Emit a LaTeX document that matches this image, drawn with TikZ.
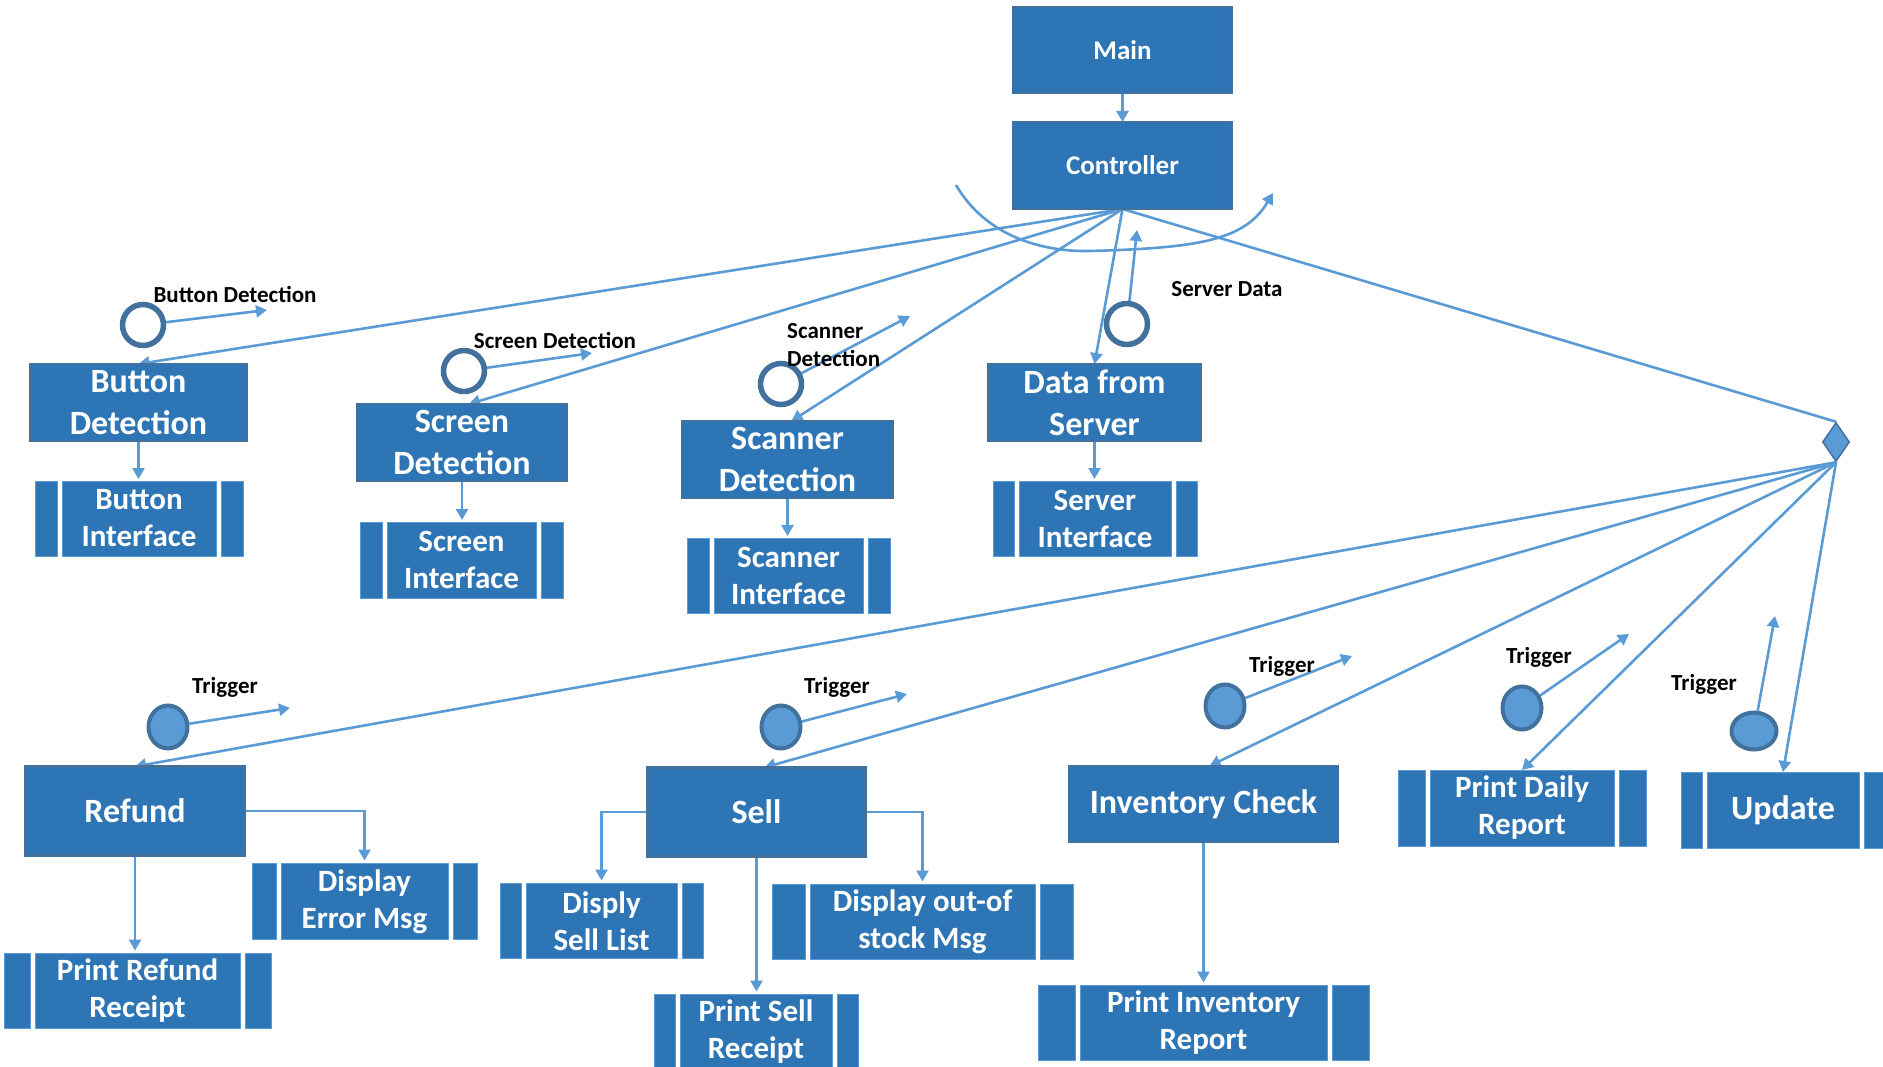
\documentclass[tikz,border=0pt]{standalone}
\usepackage{fontspec}
\setmainfont{Carlito}
\usetikzlibrary{arrows.meta,shapes.geometric,calc}
\definecolor{boxfill}{HTML}{2E75B6}
\definecolor{boxline}{HTML}{41719C}
\definecolor{conline}{HTML}{5B9BD5}
\pgfdeclarelayer{bg}
\pgfsetlayers{bg,main}
\newcommand\fBig{\fontsize{34}{42}\selectfont\bfseries}
\newcommand\fMid{\fontsize{31}{37}\selectfont\bfseries}
\newcommand\fTop{\fontsize{27}{32}\selectfont\bfseries}
\newcommand\fLab{\fontsize{23}{28}\selectfont\bfseries}
% #1 name, #2 centre, #3 total width, #4 height, #5 bar width, #6 font, #7 text
\newcommand\pbox[7]{%
  \node[ibox, font=#6, minimum width={#3-2*#5-10}, minimum height=#4] (#1) at (#2) {#7};
  \draw[barst] ([xshift=-5]#1.north west) rectangle ([xshift={-5-#5}]#1.south west);
  \draw[barst] ([xshift=5]#1.north east) rectangle ([xshift={5+#5}]#1.south east);
}
\begin{document}
\begin{tikzpicture}[x=1pt,y=-1pt,
  proc/.style={draw=boxline, line width=2.5, fill=boxfill, text=white, align=center, inner sep=0pt, outer sep=0pt},
  ibox/.style={draw=conline, line width=1, fill=boxfill, text=white, align=center, inner sep=0pt, outer sep=0pt},
  barst/.style={draw=conline, line width=1, fill=boxfill},
  conn/.style={draw=conline, line width=2.6},
  arr/.style={conn, -{Triangle[length=11pt,width=12pt]}},
  hollow/.style={circle, draw=boxline, line width=5.5, fill=white, minimum size=41, inner sep=0pt},
  trig/.style={ellipse, draw=boxline, line width=4, fill=conline, inner sep=0pt},
  lab/.style={font=\fLab, text=black, inner sep=0pt},
]
\useasboundingbox (0,0) rectangle (1883,1067);

% top boxes
\node[proc, font=\fTop, minimum width=219, minimum height=86] (main) at (1122.5,50) {Main};
\node[proc, font=\fTop, minimum width=219, minimum height=87] (ctrl) at (1122.5,165.5) {Controller};
\node[proc, font=\fBig, minimum width=217, minimum height=77] (bd) at (138.5,402.5) {Button\\Detection};
\node[proc, font=\fBig, minimum width=210, minimum height=77] (sd) at (462,442.5) {Screen\\Detection};
\node[proc, font=\fBig, minimum width=211, minimum height=77] (scd) at (787.5,459.5) {Scanner\\Detection};
\node[proc, font=\fBig, minimum width=213, minimum height=77] (dfs) at (1094.5,402.5) {Data from\\Server};
\pbox{bi}{139,518.5}{208}{75}{22}{\fMid}{Button\\Interface}
\pbox{si}{461.5,560}{203}{76}{22}{\fMid}{Screen\\Interface}
\pbox{sci}{788.5,575.5}{203}{75}{22}{\fMid}{Scanner\\Interface}
\pbox{svi}{1095,518.5}{204}{75}{21}{\fMid}{Server\\Interface}

\node[diamond, draw=boxline, line width=1.5, fill=conline, minimum width=27, minimum height=39, inner sep=0pt] (dia) at (1836,442) {};

% bottom boxes
\node[proc, font=\fBig, minimum width=219, minimum height=89] (refund) at (135,811) {Refund};
\node[proc, font=\fBig, minimum width=218, minimum height=89] (sell) at (756.5,812) {Sell};
\node[proc, font=\fBig, minimum width=269, minimum height=76] (inv) at (1203.5,804) {Inventory Check};
\pbox{pdr}{1522,808}{248}{76}{27}{\fMid}{Print Daily\\Report}
\pbox{upd}{1783,810}{204}{76}{21}{\fBig}{Update}
\pbox{dem}{364.5,901.5}{225}{76}{24}{\fMid}{Display\\Error Msg}
\pbox{prr}{137.5,991}{267}{75}{26}{\fMid}{Print Refund\\Receipt}
\pbox{dsl}{601.5,921}{203}{75}{21}{\fMid}{Disply\\Sell List}
\pbox{doos}{922.5,922}{301}{75}{33}{\fMid}{Display out-of\\stock Msg}
\pbox{psr}{756,1032}{204}{75}{21}{\fMid}{Print Sell\\Receipt}
\pbox{pir}{1203.5,1023}{331}{75}{37}{\fMid}{Print Inventory\\Report}

% event circles
\node[hollow] (cbd) at (143,325) {};
\node[hollow] (csd) at (464,371) {};
\node[hollow] (cscd) at (781,384) {};
\node[hollow] (cdfs) at (1127,324) {};
\node[trig, minimum width=39, minimum height=43] (t1) at (168,727) {};
\node[trig, minimum width=39, minimum height=43] (t2) at (781,727) {};
\node[trig, minimum width=39, minimum height=43] (t3) at (1225,706) {};
\node[trig, minimum width=39, minimum height=43] (t4) at (1522,708) {};
\node[trig, minimum width=45, minimum height=37] (t5) at (1754,731) {};

% free ends
\coordinate (ebd) at (267,310);
\coordinate (esd) at (592,353);
\coordinate (escd) at (910,316);
\coordinate (edfs) at (1137,230);
\coordinate (e1) at (290,708);
\coordinate (e2) at (907,694);
\coordinate (e3) at (1352,656);
\coordinate (e4) at (1629,634);
\coordinate (e5) at (1775,616);
\coordinate (cs) at (956,185);
\coordinate (ce) at (1273,193);

% labels
\node[lab] (lbd) at (235,294) {Button Detection};
\node[lab] (lsd) at (555,340) {Screen Detection};
\node[lab, align=left, anchor=west] (lscd) at (787,345) {Scanner\\Detection};
\node[lab] (ldfs) at (1227,289) {Server Data};
\node[lab] (l1) at (225,687) {Trigger};
\node[lab] (l2) at (837,687) {Trigger};
\node[lab] (l3) at (1282,666) {Trigger};
\node[lab] (l4) at (1539,657) {Trigger};
\node[lab] (l5) at (1704,684) {Trigger};

\begin{pgfonlayer}{bg}
\draw[arr] (main) -- (ctrl);
\draw[arr] (ctrl.south) -- (bd.north);
\draw[arr] (ctrl.south) -- ([xshift=7]sd.north);
\draw[arr] (ctrl.south) -- ([xshift=4]scd.north);
\draw[arr] (ctrl.south) -- (dfs.north);
\draw[conn] (ctrl.south) -- (dia.north);
\draw[arr] (cs) .. controls (985,235) and (1040,252) .. (1090,251) .. controls (1200,248) and (1245,240) .. (ce);

\draw[arr, shorten >=2] (bd.south) -- (bd.south |- bi.north);
\draw[arr, shorten >=2] (sd.south) -- (sd.south |- si.north);
\draw[arr, shorten >=2] (scd.south) -- (scd.south |- sci.north);
\draw[arr, shorten >=2] (dfs.south) -- (dfs.south |- svi.north);

\draw[arr] (dia.south) -- (refund.north);
\draw[arr] (dia.south) -- ([xshift=8]sell.north);
\draw[arr] (dia.south) -- ([xshift=6]inv.north);
\draw[arr] (dia.south) -- (pdr.north);
\draw[arr] (dia.south) -- (upd.north);

\draw[arr, shorten >=3] (refund.east) -| (dem.north);
\draw[arr, shorten >=3] (refund.south) -- (refund.south |- prr.north);
\draw[arr, shorten >=3] (sell.west) -| (dsl.north);
\draw[arr, shorten >=3] (sell.east) -| (doos.north);
\draw[arr, shorten >=3] (sell.south) -- (sell.south |- psr.north);
\draw[arr, shorten >=3] (inv.south) -- (inv.south |- pir.north);

\draw[arr] (cbd) -- (ebd);
\draw[arr] (csd) -- (esd);
\draw[arr] (cscd) -- (escd);
\draw[arr] (cdfs) -- (edfs);
\draw[arr] (t1) -- (e1);
\draw[arr] (t2) -- (e2);
\draw[arr] (t3) -- (e3);
\draw[arr] (t4) -- (e4);
\draw[arr] (t5) -- (e5);
\end{pgfonlayer}
\end{tikzpicture}
\end{document}
